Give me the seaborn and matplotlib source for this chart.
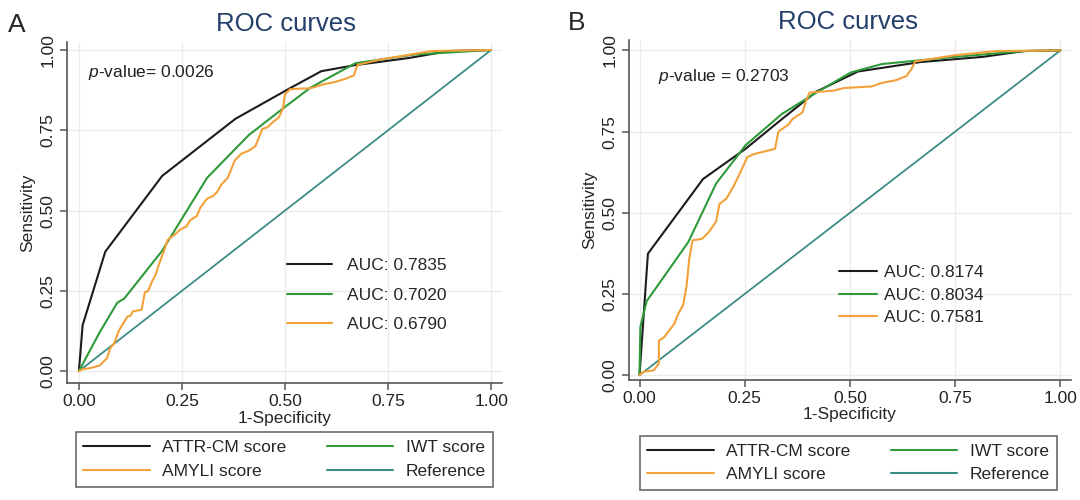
import numpy as np
import pandas as pd
import matplotlib
matplotlib.use("Agg")
import matplotlib.pyplot as plt
from matplotlib.lines import Line2D
import seaborn as sns

# ---- data ----
# panel A
a_attr_x = [0.0, 0.009, 0.064, 0.202, 0.380, 0.512, 0.588, 0.670, 0.800, 0.898, 1.0]
a_attr_y = [0.0, 0.143, 0.372, 0.608, 0.786, 0.881, 0.934, 0.953, 0.975, 0.997, 1.0]
a_iwt_x = [0.0, 0.050, 0.093, 0.110, 0.202, 0.311, 0.412, 0.495, 0.562, 0.671, 0.814, 1.0]
a_iwt_y = [0.0, 0.120, 0.213, 0.226, 0.375, 0.602, 0.735, 0.818, 0.883, 0.959, 0.986, 1.0]
a_amy_x = [0.0, 0.009, 0.030, 0.051, 0.060, 0.068, 0.076, 0.085, 0.097, 0.108, 0.118, 0.125,
           0.131, 0.152, 0.160, 0.168, 0.177, 0.186, 0.194, 0.202, 0.208, 0.215, 0.236, 0.245,
           0.261, 0.270, 0.286, 0.295, 0.311, 0.325, 0.336, 0.345, 0.361, 0.370, 0.378, 0.395,
           0.410, 0.428, 0.436, 0.445, 0.458, 0.470, 0.485, 0.495, 0.500, 0.512, 0.540, 0.562,
           0.580, 0.596, 0.620, 0.646, 0.667, 0.676, 0.730, 0.800, 0.856, 1.0]
a_amy_y = [0.0, 0.006, 0.010, 0.018, 0.030, 0.040, 0.072, 0.085, 0.126, 0.150, 0.170, 0.172,
           0.186, 0.191, 0.245, 0.250, 0.278, 0.300, 0.332, 0.359, 0.380, 0.408, 0.429, 0.440,
           0.451, 0.470, 0.483, 0.510, 0.537, 0.545, 0.559, 0.580, 0.602, 0.630, 0.656, 0.678,
           0.685, 0.700, 0.725, 0.754, 0.760, 0.775, 0.790, 0.818, 0.862, 0.878, 0.880, 0.881,
           0.888, 0.894, 0.900, 0.910, 0.921, 0.954, 0.970, 0.985, 0.997, 1.0]
a_auc = ["AUC: 0.7835", "AUC: 0.7020", "AUC: 0.6790"]
a_pvalue = "0.0026"

# panel B
b_attr_x = [0.0, 0.020, 0.151, 0.252, 0.338, 0.420, 0.519, 0.667, 0.815, 0.914, 1.0]
b_attr_y = [0.0, 0.374, 0.604, 0.697, 0.788, 0.873, 0.935, 0.964, 0.980, 0.998, 1.0]
b_iwt_x = [0.0, 0.002, 0.017, 0.058, 0.116, 0.182, 0.252, 0.338, 0.420, 0.502, 0.576, 0.749, 0.914, 1.0]
b_iwt_y = [0.0, 0.148, 0.228, 0.303, 0.410, 0.590, 0.708, 0.804, 0.870, 0.932, 0.958, 0.980, 0.998, 1.0]
b_amy_x = [0.0, 0.009, 0.034, 0.046, 0.046, 0.058, 0.071, 0.083, 0.091, 0.104, 0.112, 0.118,
           0.126, 0.149, 0.165, 0.182, 0.190, 0.206, 0.223, 0.239, 0.256, 0.272, 0.289, 0.322,
           0.330, 0.354, 0.363, 0.387, 0.396, 0.404, 0.461, 0.486, 0.552, 0.576, 0.609, 0.634,
           0.646, 0.655, 0.749, 0.848, 1.0]
b_amy_y = [0.0, 0.010, 0.015, 0.036, 0.106, 0.116, 0.138, 0.159, 0.186, 0.217, 0.276, 0.356,
           0.415, 0.420, 0.441, 0.473, 0.527, 0.543, 0.580, 0.623, 0.671, 0.681, 0.686, 0.697,
           0.750, 0.772, 0.788, 0.809, 0.846, 0.870, 0.876, 0.884, 0.889, 0.900, 0.908, 0.921,
           0.942, 0.966, 0.985, 0.998, 1.0]
b_auc = ["AUC: 0.8174", "AUC: 0.8034", "AUC: 0.7581"]
b_pvalue = "0.2703"

ref_x = [0.0, 1.0]
ref_y = [0.0, 1.0]
ticks = [0.0, 0.25, 0.5, 0.75, 1.0]
tick_labels = ["0.00", "0.25", "0.50", "0.75", "1.00"]
series_names = ["ATTR-CM score", "IWT score", "AMYLI score", "Reference"]

# ---- styling ----
sns.set_theme(style="white")
plt.rcParams["font.family"] = ["Liberation Sans", "DejaVu Sans"]
plt.rcParams["mathtext.fontset"] = "custom"
plt.rcParams["mathtext.rm"] = "Liberation Sans"
plt.rcParams["mathtext.it"] = "Liberation Sans:italic"

c_black = "#1c1c1c"
c_green = "#2f9a3a"
c_orange = "#f2a13a"
c_ref = "#3c8c86"
c_axis = "#555555"
c_title = "#243f6b"
FS = 12.5
LW = 1.5

fig = plt.figure(figsize=(10.8, 5), dpi=100)


def px(x, y):
    """pixel position in the 1080x500 frame -> figure fraction"""
    return x / 1080, 1 - y / 500


def draw_panel(rect, xlim, ylim, attr, iwt, amy, pval, pval_pos, letter, letter_pos, title_pos):
    ax = fig.add_axes(rect)
    for v in ticks:
        ax.axhline(v, color="#ececec", lw=1, zorder=0)
        ax.axvline(v, color="#ececec", lw=1, zorder=0)
    sns.lineplot(x=ref_x, y=ref_y, ax=ax, color=c_ref, lw=1.3, sort=False, estimator=None)
    sns.lineplot(x=attr[0], y=attr[1], ax=ax, color=c_black, lw=LW, sort=False, estimator=None)
    sns.lineplot(x=iwt[0], y=iwt[1], ax=ax, color=c_green, lw=LW, sort=False, estimator=None)
    sns.lineplot(x=amy[0], y=amy[1], ax=ax, color=c_orange, lw=LW, sort=False, estimator=None)
    ax.set_xlim(*xlim)
    ax.set_ylim(*ylim)
    ax.set_xticks(ticks)
    ax.set_xticklabels(tick_labels, fontsize=FS)
    ax.set_yticks(ticks)
    ax.set_yticklabels(tick_labels, fontsize=FS, rotation=90, va="center")
    ax.tick_params(direction="out", length=5, width=1.1, color=c_axis, pad=3,
                   bottom=True, left=True, labelcolor="#222222")
    ax.set_xlabel("1-Specificity", fontsize=FS, labelpad=1)
    ax.set_ylabel("Sensitivity", fontsize=FS, labelpad=4)
    sns.despine(ax=ax)
    for s in ("left", "bottom"):
        ax.spines[s].set_color(c_axis)
        ax.spines[s].set_linewidth(1.2)
    ax.text(pval_pos[0], pval_pos[1], pval, transform=ax.transData,
            fontsize=FS, ha="left", va="center", color="#222222")
    fig.text(*px(*letter_pos), letter, fontsize=19, ha="center", va="center")
    fig.text(*px(*title_pos), "ROC curves", fontsize=18.5, color=c_title, ha="center", va="center")
    return ax


ax_a = draw_panel([0.062, 0.234, 0.403, 0.682], (-0.029, 1.027), (-0.037, 1.025),
                  (a_attr_x, a_attr_y), (a_iwt_x, a_iwt_y), (a_amy_x, a_amy_y),
                  "$p$-value= " + a_pvalue, (0.022, 0.93), "A", (17, 25), (286, 24))
ax_b = draw_panel([0.582, 0.240, 0.410, 0.680], (-0.026, 1.026), (-0.015, 1.032),
                  (b_attr_x, b_attr_y), (b_iwt_x, b_iwt_y), (b_amy_x, b_amy_y),
                  "$p$-value = " + b_pvalue, (0.043, 0.92), "B", (577, 23), (848, 22))

# AUC legends inside panels
auc_handles = [Line2D([], [], color=c, lw=LW) for c in (c_black, c_green, c_orange)]
fig.legend(auc_handles, a_auc, loc="upper left", bbox_to_anchor=px(287, 258),
           frameon=False, fontsize=FS, borderpad=0, borderaxespad=0,
           handlelength=2.6, handletextpad=0.85, labelspacing=0.83)
fig.legend(auc_handles, b_auc, loc="upper left", bbox_to_anchor=px(839, 265),
           frameon=False, fontsize=FS, borderpad=0, borderaxespad=0,
           handlelength=2.2, handletextpad=0.4, labelspacing=0.42)

# series legends below panels (column-major: ATTR, AMYLI | IWT, Reference)
key_handles = [Line2D([], [], color=c, lw=LW) for c in (c_black, c_orange, c_green, c_ref)]
key_labels = [series_names[0], series_names[2], series_names[1], series_names[3]]
for anchor, cs in ((px(284.5, 459.5), 2.3), (px(848.5, 463), 2.3)):
    lg = fig.legend(key_handles, key_labels, loc="center", bbox_to_anchor=anchor, ncol=2,
                    fontsize=FS, frameon=True, fancybox=False, borderpad=0.45,
                    handlelength=3.85, handletextpad=0.7, columnspacing=cs,
                    labelspacing=0.5, borderaxespad=0)
    lg.get_frame().set_edgecolor("#444444")
    lg.get_frame().set_linewidth(1.2)

fig.savefig("out.png", dpi=100)
